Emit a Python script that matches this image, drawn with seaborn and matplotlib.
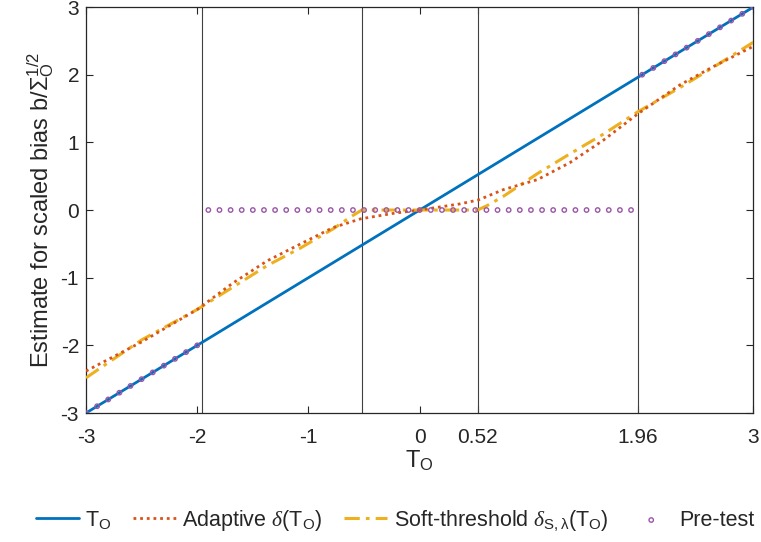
"""Estimators of scaled bias vs T_O: identity, adaptive, soft-threshold, pre-test."""

import matplotlib
matplotlib.use("Agg")
import matplotlib.pyplot as plt
import seaborn as sns

# identity line T_O
identity_x = [-3, 3]
identity_y = [-3, 3]

# adaptive delta(T_O)
adaptive_x = [-3.0, -2.5, -2.0, -1.68, -1.37, -1.07, -0.78, -0.53, -0.24, 0.0,
              0.36, 0.53, 0.75, 1.06, 1.35, 1.65, 1.96, 2.34, 2.64, 3.0]
adaptive_y = [-2.38, -1.95, -1.47, -1.08, -0.75, -0.5, -0.26, -0.13, -0.05, 0.0,
              0.09, 0.15, 0.3, 0.45, 0.7, 1.03, 1.42, 1.85, 2.12, 2.42]

# soft-threshold delta_{S,lambda}(T_O)
soft_x = [-3.0, -2.5, -2.0, -1.68, -1.37, -1.07, -0.78, -0.6, -0.52, 0.52,
          0.6, 0.75, 1.06, 1.35, 1.65, 1.96, 2.34, 2.64, 3.0]
soft_y = [-2.48, -1.92, -1.47, -1.14, -0.82, -0.56, -0.28, -0.08, 0.0, 0.0,
          0.06, 0.2, 0.54, 0.83, 1.12, 1.45, 1.81, 2.11, 2.48]

# pre-test estimator, one circle every 0.1
pretest_x = [-3.0, -2.9, -2.8, -2.7, -2.6, -2.5, -2.4, -2.3, -2.2, -2.1, -2.0,
             -1.9, -1.8, -1.7, -1.6, -1.5, -1.4, -1.3, -1.2, -1.1, -1.0,
             -0.9, -0.8, -0.7, -0.6, -0.5, -0.4, -0.3, -0.2, -0.1, 0.0,
             0.1, 0.2, 0.3, 0.4, 0.5, 0.6, 0.7, 0.8, 0.9, 1.0,
             1.1, 1.2, 1.3, 1.4, 1.5, 1.6, 1.7, 1.8, 1.9,
             2.0, 2.1, 2.2, 2.3, 2.4, 2.5, 2.6, 2.7, 2.8, 2.9, 3.0]
pretest_y = [-3.0, -2.9, -2.8, -2.7, -2.6, -2.5, -2.4, -2.3, -2.2, -2.1, -2.0,
             0, 0, 0, 0, 0, 0, 0, 0, 0, 0,
             0, 0, 0, 0, 0, 0, 0, 0, 0, 0,
             0, 0, 0, 0, 0, 0, 0, 0, 0, 0,
             0, 0, 0, 0, 0, 0, 0, 0, 0,
             2.0, 2.1, 2.2, 2.3, 2.4, 2.5, 2.6, 2.7, 2.8, 2.9, 3.0]

cutoffs = [-1.96, -0.52, 0.52, 1.96]
xticks = [-3, -2, -1, 0, 0.52, 1.96, 3]
xticklabels = ["-3", "-2", "-1", "0", "0.52", "1.96", "3"]
yticks = [-3, -2, -1, 0, 1, 2, 3]

sns.set_theme(style="ticks")
plt.rcParams["font.family"] = ["Liberation Sans", "DejaVu Sans"]
plt.rcParams["mathtext.fontset"] = "custom"
plt.rcParams["mathtext.rm"] = "Liberation Sans"
plt.rcParams["mathtext.it"] = "Liberation Serif:italic"
plt.rcParams["axes.unicode_minus"] = False

fig = plt.figure(figsize=(7.61, 5.42), dpi=100)
ax = fig.add_axes([0.113, 0.238, 0.877, 0.749])

for c in cutoffs:
    ax.axvline(c, color="#404040", lw=0.8, zorder=1)

sns.lineplot(x=identity_x, y=identity_y, ax=ax, color="#0072BD", lw=2,
             label=r"T$_{\rm O}$", zorder=3)
sns.lineplot(x=adaptive_x, y=adaptive_y, ax=ax, color="#D95319", lw=2,
             linestyle=(0, (1, 1.4)), label=r"Adaptive $\delta$(T$_{\rm O}$)", zorder=4)
sns.lineplot(x=soft_x, y=soft_y, ax=ax, color="#EDB120", lw=2.2,
             linestyle=(0, (5, 2, 1.2, 2)),
             label=r"Soft-threshold $\delta_{\rm S,\lambda}$(T$_{\rm O}$)", zorder=3)
sns.scatterplot(x=pretest_x, y=pretest_y, ax=ax, marker="o", s=10,
                facecolor="none", edgecolor="#9A55A8", linewidth=1.0,
                label="Pre-test", zorder=5)

ax.set_xlim(-3, 3)
ax.set_ylim(-3, 3)
ax.set_xticks(xticks)
ax.set_xticklabels(xticklabels)
ax.set_yticks(yticks)
ax.tick_params(direction="in", top=True, right=True, labelsize=15,
               length=5, width=0.8, colors="#262626")
ax.tick_params(axis="x", pad=11)
ax.tick_params(axis="y", pad=5)
for s in ax.spines.values():
    s.set_linewidth(0.9)
    s.set_color("#262626")

ax.set_xlabel(r"T$_{\rm O}$", fontsize=17, labelpad=1)
ax.set_ylabel(r"Estimate for scaled bias b/$\Sigma_{\rm O}^{1/2}$", fontsize=17, labelpad=3)

ax.legend(loc="center", bbox_to_anchor=(0.463, -0.264), ncol=4, frameon=False,
          fontsize=15.5, handlelength=2.0, columnspacing=1.0, handletextpad=0.3)

fig.savefig("out.png", dpi=100)
